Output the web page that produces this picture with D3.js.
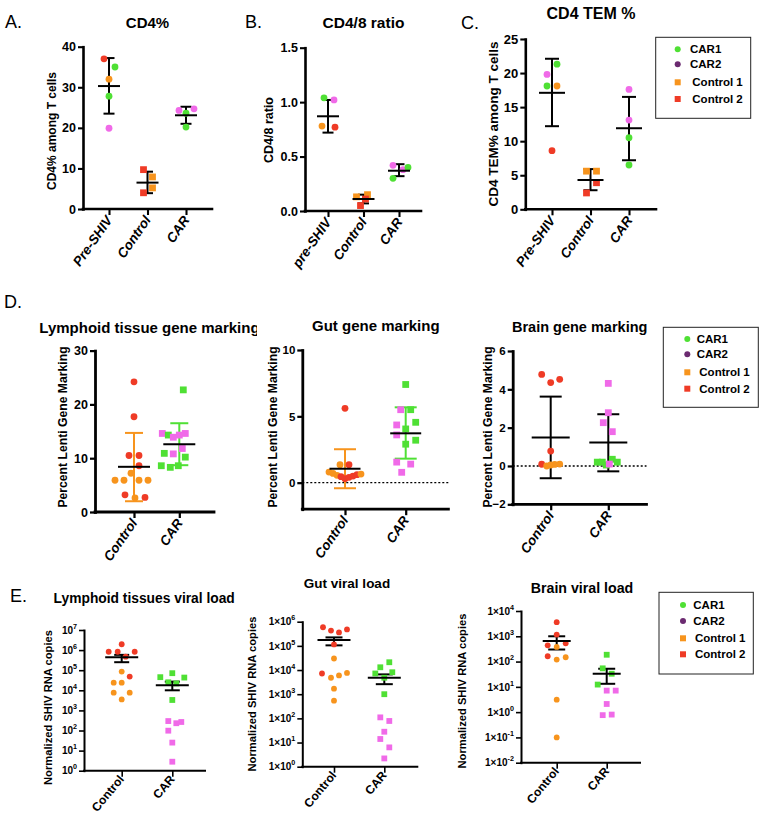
<!DOCTYPE html>
<html><head><meta charset="utf-8">
<script src="https://cdn.jsdelivr.net/npm/d3@7"></script>
<style>
body{margin:0;background:#fff}
svg{display:block}
text{font-family:"Liberation Sans",Arial,Helvetica,sans-serif;fill:#000}
</style>
</head><body>
<svg id="c" width="762" height="813"></svg>
<script>
// ---------------- DATA ----------------
const legendItems = ["CAR1", "CAR2", "Control 1", "Control 2"];

// A. CD4%
const catsA = ["Pre-SHIV", "Control", "CAR"];
const valsA = [[37.0, 35.0, 32.0, 27.8, 19.9], [9.7, 7.9, 5.2, 4.0], [24.3, 24.7, 23.6, 20.2]];
const grpA = [["Control 2", "CAR1", "Control 1", "CAR1", "CAR2"], ["Control 2", "Control 1", "Control 1", "Control 2"], ["CAR2", "CAR2", "CAR1", "CAR1"]];
const meanA = [30.3, 6.5, 23.1], lowA = [23.5, 3.9, 21.0], highA = [37.2, 9.2, 25.2];
const ticksA = [0, 10, 20, 30, 40];

// B. CD4/8 ratio
const catsB = ["pre-SHIV", "Control", "CAR"];
const valsB = [[1.04, 1.02, 0.78, 0.77], [0.13, 0.15, 0.11, 0.05], [0.42, 0.38, 0.40, 0.30]];
const grpB = [["CAR1", "CAR2", "Control 1", "Control 2"], ["Control 1", "Control 1", "Control 2", "Control 2"], ["CAR2", "CAR2", "CAR1", "CAR1"]];
const meanB = [0.87, 0.11, 0.37], lowB = [0.72, 0.07, 0.32], highB = [1.02, 0.15, 0.43];
const ticksB = [0, 0.5, 1.0, 1.5];

// C. CD4 TEM %
const catsC = ["Pre-SHIV", "Control", "CAR"];
const valsC = [[19.8, 21.3, 18.1, 18.1, 8.6], [5.6, 5.6, 3.9, 2.4], [17.6, 13.1, 10.5, 6.5]];
const grpC = [["CAR2", "CAR1", "CAR1", "Control 1", "Control 2"], ["Control 1", "Control 1", "Control 2", "Control 2"], ["CAR2", "CAR2", "CAR1", "CAR1"]];
const meanC = [17.1, 4.3, 11.9], lowC = [12.2, 2.8, 7.2], highC = [22.1, 5.9, 16.5];
const ticksC = [0, 5, 10, 15, 20, 25];

// D1. Lymphoid tissue gene marking
const catsD = ["Control", "CAR"];
const valsD1 = [[24.2, 17.7, 10.5, 10.5, 8.6, 7.2, 5.9, 5.9, 5.9, 5.9, 3.2, 2.6, 2.7],
                [22.7, 14.6, 14.3, 13.9, 14.3, 14.6, 11.8, 10.9, 10.8, 10.2, 8.6, 8.3, 8.6]];
const grpD1 = [["Control 2", "Control 2", "Control 2", "Control 2", "Control 2", "Control 1", "Control 1", "Control 1", "Control 1", "Control 1", "Control 2", "Control 1", "Control 2"],
               ["CAR1", "CAR2", "CAR1", "CAR2", "CAR2", "CAR2", "CAR2", "CAR1", "CAR2", "CAR1", "CAR1", "CAR1", "CAR1"]];
const meanD1 = [8.4, 12.6], lowD1 = [2.0, 8.7], highD1 = [14.7, 16.5];
const ticksD1 = [0, 10, 20, 30];

// D2. Gut gene marking
const valsD2 = [[5.6, 1.35, 1.35, 0.8, 0.7, 0.55, 0.45, 0.3, 0.4, 0.5, 0.6, 0.65],
                [7.4, 5.5, 5.5, 4.55, 4.35, 4.05, 3.6, 3.2, 2.9, 1.55, 1.4, 0.78]];
const grpD2 = [["Control 2", "Control 1", "Control 2", "Control 1", "Control 1", "Control 1", "Control 2", "Control 2", "Control 2", "Control 2", "Control 2", "Control 1"],
               ["CAR1", "CAR2", "CAR1", "CAR1", "CAR2", "CAR1", "CAR2", "CAR1", "CAR1", "CAR2", "CAR2", "CAR2"]];
const meanD2 = [1.05, 3.72], lowD2 = [-0.42, 1.81], highD2 = [2.52, 5.68];
const ticksD2 = [0, 5, 10];

// D3. Brain gene marking
const valsD3 = [[4.78, 4.35, 4.52, 0.78, 0.09, 0.0, 0.05, 0.08, 0.1],
                [4.31, 2.78, 2.26, 1.79, 0.2, 0.2, 0.35, 0.2, 0.05, 0.1]];
const grpD3 = [["Control 2", "Control 2", "Control 2", "Control 2", "Control 2", "Control 1", "Control 1", "Control 1", "Control 1"],
               ["CAR2", "CAR2", "CAR2", "CAR2", "CAR1", "CAR1", "CAR1", "CAR1", "CAR1", "CAR2"]];
const meanD3 = [1.49, 1.22], lowD3 = [-0.64, -0.28], highD3 = [3.62, 2.7];
const ticksD3 = [-2, 0, 2, 4, 6];

// E1. Lymphoid tissues viral load
const valsE1 = [[1.95e6, 8.3e5, 8.3e5, 8.3e5, 4.7e5, 8.5e4, 4.8e4, 2.4e4, 2.4e4, 7.6e3, 7.6e3, 3.5e3],
                [7.1e4, 4.5e4, 4.3e4, 2.5e4, 2.2e4, 3.3e3, 295, 230, 265, 98, 25, 2.8]];
const grpE1 = [["Control 2", "Control 2", "Control 2", "Control 2", "Control 2", "Control 1", "Control 2", "Control 1", "Control 1", "Control 1", "Control 1", "Control 1"],
               ["CAR1", "CAR1", "CAR1", "CAR1", "CAR1", "CAR1", "CAR2", "CAR2", "CAR2", "CAR2", "CAR2", "CAR2"]];
const meanE1 = [4.4e5, 1.8e4], lowE1 = [2.5e5, 1.0e4], highE1 = [5.8e5, 2.7e4];
const ticksE1 = [1, 1e1, 1e2, 1e3, 1e4, 1e5, 1e6, 1e7];

// E2. Gut viral load
const valsE2 = [[5.9e5, 4.3e5, 3.6e5, 4.8e5, 1.15e5, 3.0e4, 7.2e3, 4.8e3, 6.0e3, 7.6e3, 1.7e3, 540],
                [2.1e4, 1.3e4, 8.1e3, 7.2e3, 4.8e3, 1.0e3, 110, 78, 28, 14, 6.3, 2.2]];
const grpE2 = [["Control 2", "Control 2", "Control 2", "Control 2", "Control 2", "Control 1", "Control 2", "Control 1", "Control 1", "Control 1", "Control 1", "Control 1"],
               ["CAR1", "CAR1", "CAR1", "CAR1", "CAR1", "CAR1", "CAR2", "CAR2", "CAR2", "CAR2", "CAR2", "CAR2"]];
const meanE2 = [1.74e5, 4.8e3], lowE2 = [1.05e5, 2.6e3], highE2 = [2.24e5, 6.6e3];
const ticksE2 = [1, 1e1, 1e2, 1e3, 1e4, 1e5, 1e6];

// E3. Brain viral load
const valsE3 = [[3.6e3, 1.17e3, 440, 525, 380, 162, 120, 148, 3.1, 0.1],
                [186, 54, 33, 12.3, 7.1, 7.1, 2.1, 0.76, 0.8]];
const grpE3 = [["Control 2", "Control 2", "Control 2", "Control 2", "Control 1", "Control 2", "Control 1", "Control 1", "Control 1", "Control 1"],
               ["CAR1", "CAR1", "CAR1", "CAR1", "CAR2", "CAR2", "CAR2", "CAR2", "CAR2"]];
const meanE3 = [650, 33], lowE3 = [300, 13.2], highE3 = [1000, 52];
const ticksE3 = [0.01, 0.1, 1, 1e1, 1e2, 1e3, 1e4];

// ---------------- LAYOUT (jitter offsets, px) ----------------
const jitA = [[-5, 6, 0, 0, 0], [-4, 5, 5, -4], [-7, 8, 0, 0]];
const jitB = [[-4, 6, -6, 7], [-7, 4, 2, -3], [-6, 4, 9, -6]];
const jitC = [[-5, 5, -5, 5, 0], [-4, 6, 6, -4], [0, 0, 0, 0]];
const jitD1 = [[0, 0, -5, 5, 5, -3, -19, -10, 5, 14, -9, 1, 11], [4, -17, -11, -6, 0, 6, 3, -15, -6, 6, -18, -9, -1]];
const jitD2 = [[0, -5, 4, -16, -12, -8, -4, 0, 4, 8, 12, 16], [0, -5, 5, 10, -9, 0, -9, 10, 0, -9, 5, -4]];
const jitD3 = [[-9, 0, 9, 0, -9, -4, 0, 4, 9], [0, 0, -5, 4, -11, -6, 4, 9, -2, 1]];
const jitE1 = [[0, -13, -4, 13, 4, 0, 8, -8, 0, -8, 8, 0], [0, -12, 12, -4, 4, 0, -4, 4, 9, -4, 0, 0]];
const jitE2 = [[-11, -3, 5, 13, 0, 0, -12, -3, 5, 13, 0, 0], [5, -4, 8, -9, 0, 0, -4, 5, 0, -4, 5, 0]];
const jitE3 = [[0, 0, -9, 9, 0, -9, 0, 9, 0, 0], [0, -4, 5, -9, 0, 9, 0, -4, 5]];

const COL = {"CAR1": "#4fe034", "CAR2": "#f06ae8", "Control 1": "#f7941d", "Control 2": "#ef3b26"};
const LEGCOL = {"CAR1": "#4fe034", "CAR2": "#6b2a70", "Control 1": "#f7941d", "Control 2": "#ef3b26"};

const svg = d3.select("#c");

function drawPanel(p) {
  const g = svg.append("g");
  const y = (p.log ? d3.scaleLog() : d3.scaleLinear()).domain(p.domain).range([p.yB, p.yT]);
  const x = d3.scalePoint().domain(p.cats).range(p.cr);

  const ax = d3.axisLeft(y).tickValues(p.ticks).tickSize(5).tickSizeOuter(0).tickPadding(2);
  if (p.fmt) ax.tickFormat(p.fmt);
  const ga = g.append("g").attr("transform", `translate(${p.x0},0)`).call(ax);
  ga.select(".domain").attr("stroke", "#000").attr("stroke-width", p.aw).attr("stroke-linecap", "square");
  ga.selectAll(".tick line").attr("stroke", "#000").attr("stroke-width", p.aw * 0.8);
  ga.selectAll(".tick text").attr("font-size", p.tf).attr("font-weight", "bold");
  if (p.sup !== undefined) {
    ga.selectAll(".tick text").each(function (d) {
      const t = d3.select(this);
      const e = Math.round(Math.log10(d));
      t.text("");
      t.append("tspan").text(p.sup);
      t.append("tspan").attr("dy", -5).attr("font-size", p.tf * 0.72).text(e);
    });
  }

  g.append("line").attr("x1", p.x0).attr("x2", p.x1).attr("y1", p.yB).attr("y2", p.yB)
    .attr("stroke", "#000").attr("stroke-width", p.aw).attr("stroke-linecap", "square");
  const gx = g.append("g").attr("transform", `translate(0,${p.yB})`)
    .call(d3.axisBottom(x).tickSize(6).tickSizeOuter(0).tickFormat(""));
  gx.select(".domain").remove();
  gx.selectAll(".tick line").attr("stroke", "#000").attr("stroke-width", p.aw * 0.8);

  g.selectAll("text.xl").data(p.cats).join("text").attr("class", "xl")
    .attr("transform", d => `translate(${x(d) + p.lx},${p.yB + p.ly}) rotate(${-p.ang})`)
    .attr("text-anchor", "end").attr("font-size", p.xf).attr("font-weight", "bold")
    .attr("font-style", p.italic ? "italic" : "normal").text(d => d);

  if (p.zero) {
    g.append("line").attr("x1", p.x0).attr("x2", p.x1).attr("y1", y(0)).attr("y2", y(0))
      .attr("stroke", "#000").attr("stroke-width", 1.3).attr("stroke-dasharray", "2,2");
  }

  p.cats.forEach((c, i) => {
    const cx = x(c), col = p.ec ? p.ec[i] : "#000";
    g.append("line").attr("x1", cx).attr("x2", cx).attr("y1", y(p.lo[i])).attr("y2", y(p.hi[i]))
      .attr("stroke", col).attr("stroke-width", p.bw);
    [p.lo[i], p.hi[i]].forEach(v => {
      g.append("line").attr("x1", cx - p.cw / 2).attr("x2", cx + p.cw / 2).attr("y1", y(v)).attr("y2", y(v))
        .attr("stroke", col).attr("stroke-width", p.bw);
    });
  });

  const pts = [];
  p.vals.forEach((arr, i) => arr.forEach((v, j) => pts.push({i, v, grp: p.grp[i][j], dx: p.jit[i][j]})));
  pts.forEach(d => {
    const cx = x(p.cats[d.i]) + d.dx, cy = y(d.v);
    if (p.shape[d.i] === "s") {
      g.append("rect").attr("x", cx - p.r).attr("y", cy - p.r).attr("width", 2 * p.r).attr("height", 2 * p.r)
        .attr("fill", COL[d.grp]);
    } else {
      g.append("circle").attr("cx", cx).attr("cy", cy).attr("r", p.r).attr("fill", COL[d.grp]);
    }
  });

  p.cats.forEach((c, i) => {
    const cx = x(c);
    g.append("line").attr("x1", cx - p.mw / 2).attr("x2", cx + p.mw / 2).attr("y1", y(p.mean[i])).attr("y2", y(p.mean[i]))
      .attr("stroke", "#000").attr("stroke-width", p.bw);
  });

  g.append("text").attr("transform", `translate(${p.ylx},${p.yly}) rotate(-90)`)
    .attr("text-anchor", "middle").attr("dominant-baseline", "central")
    .attr("font-size", p.ylf).attr("font-weight", "bold").text(p.ylabel);

  const tt = g.append("text").attr("x", p.tx).attr("y", p.ty).attr("dominant-baseline", "central")
    .attr("text-anchor", p.tanchor || "middle").attr("font-size", p.tf2).attr("font-weight", "bold").text(p.title);
  if (p.clip) {
    svg.append("clipPath").attr("id", p.clip.id).append("rect")
      .attr("x", 0).attr("y", p.ty - 15).attr("width", p.clip.x).attr("height", 30);
    tt.attr("clip-path", `url(#${p.clip.id})`);
  }
  if (p.letter) {
    g.append("text").attr("x", p.letter[1]).attr("y", p.letter[2]).attr("dominant-baseline", "central")
      .attr("font-size", 18).text(p.letter[0]);
  }
}

function legend(bx, by, bw, bh, mx, tx1, tx2, ys) {
  const g = svg.append("g");
  g.append("rect").attr("x", bx).attr("y", by).attr("width", bw).attr("height", bh)
    .attr("fill", "#fff").attr("stroke", "#222").attr("stroke-width", 1);
  legendItems.forEach((k, i) => {
    if (i < 2) g.append("circle").attr("cx", mx).attr("cy", ys[i]).attr("r", 3).attr("fill", LEGCOL[k]);
    else g.append("rect").attr("x", mx - 3).attr("y", ys[i] - 3).attr("width", 6).attr("height", 6).attr("fill", LEGCOL[k]);
    g.append("text").attr("x", i < 2 ? tx1 : tx2).attr("y", ys[i]).attr("dominant-baseline", "central")
      .attr("font-size", 11.5).attr("font-weight", "bold").text(k);
  });
}

const topRow = {aw: 2.6, bw: 2, r: 3.4, ang: 55, italic: true, xf: 13.5, lx: 4, ly: 11};
drawPanel(Object.assign({}, topRow, {
  cats: catsA, vals: valsA, grp: grpA, jit: jitA, mean: meanA, lo: lowA, hi: highA, ticks: ticksA,
  shape: ["c", "s", "c"], domain: [0, 40], x0: 83, x1: 212, yT: 46.7, yB: 209, cr: [109, 186],
  tf: 12.5, cw: 11, mw: 22, ylabel: "CD4% among T cells", ylx: 52, yly: 131, ylf: 12,
  title: "CD4%", tx: 147.5, ty: 22, tf2: 15, letter: ["A.", 5, 22]
}));
drawPanel(Object.assign({}, topRow, {
  cats: catsB, vals: valsB, grp: grpB, jit: jitB, mean: meanB, lo: lowB, hi: highB, ticks: ticksB,
  fmt: d3.format(".1f"), shape: ["c", "s", "c"], domain: [0, 1.5], x0: 305, x1: 421, yT: 47.7, yB: 211, cr: [328, 399],
  tf: 12.5, cw: 11, mw: 22, ylabel: "CD4/8 ratio", ylx: 269, yly: 130, ylf: 12.5,
  title: "CD4/8 ratio", tx: 363.5, ty: 22, tf2: 15.5, letter: ["B.", 245, 22]
}));
drawPanel(Object.assign({}, topRow, {
  cats: catsC, vals: valsC, grp: grpC, jit: jitC, mean: meanC, lo: lowC, hi: highC, ticks: ticksC,
  shape: ["c", "s", "c"], domain: [0, 25], x0: 525.3, x1: 656, yT: 39, yB: 209.3, cr: [552, 629],
  tf: 13, cw: 14, mw: 26, ylabel: "CD4 TEM% among T cells", ylx: 493.3, yly: 124, ylf: 13.5,
  title: "CD4 TEM %", tx: 591, ty: 13, tf2: 16, letter: ["C.", 461, 23]
}));

const midRow = {aw: 2.8, bw: 2, r: 3.4, ang: 55, italic: true, xf: 13.5, lx: 4, ly: 11, ylabel: "Percent Lenti Gene Marking", ylf: 12.2, yly: 427};
drawPanel(Object.assign({}, midRow, {
  cats: catsD, vals: valsD1, grp: grpD1, jit: jitD1, mean: meanD1, lo: lowD1, hi: highD1, ticks: ticksD1,
  shape: ["c", "s"], domain: [0, 30], x0: 95, x1: 214, yT: 350.6, yB: 512, cr: [134, 179.3],
  tf: 12.5, cw: 18, mw: 32, ec: ["#f7941d", "#4fe034"], ylx: 63,
  title: "Lymphoid tissue gene marking", tx: 39.3, tanchor: "start", ty: 327, tf2: 15, clip: {id: "clipD1", x: 257},
  letter: ["D.", 4, 302]
}));
drawPanel(Object.assign({}, midRow, {
  cats: catsD, vals: valsD2, grp: grpD2, jit: jitD2, mean: meanD2, lo: lowD2, hi: highD2, ticks: ticksD2,
  shape: ["c", "s"], domain: [-2, 10], x0: 302.3, x1: 448.4, yT: 350, yB: 509.2, cr: [345, 405.7], zero: true,
  tf: 11.5, cw: 22, mw: 31, ec: ["#f7941d", "#4fe034"], ylx: 273.3,
  title: "Gut gene marking", tx: 375.8, ty: 325, tf2: 15
}));
drawPanel(Object.assign({}, midRow, {
  cats: catsD, vals: valsD3, grp: grpD3, jit: jitD3, mean: meanD3, lo: lowD3, hi: highD3, ticks: ticksD3,
  shape: ["c", "s"], domain: [-2, 6], x0: 512.7, x1: 646.5, yT: 351, yB: 504.3, cr: [550.7, 608.3], zero: true,
  tf: 11.5, cw: 22, mw: 38, ylx: 488.3,
  title: "Brain gene marking", tx: 579.7, ty: 327.3, tf2: 14.5
}));

const botRow = {aw: 2, bw: 2, r: 2.9, ang: 50, italic: false, xf: 12, lx: 3, ly: 9, ylabel: "Normalized SHIV RNA copies", ylf: 11.2, log: true, tf: 10};
drawPanel(Object.assign({}, botRow, {
  cats: catsD, vals: valsE1, grp: grpE1, jit: jitE1, mean: meanE1, lo: lowE1, hi: highE1, ticks: ticksE1, sup: "10",
  shape: ["c", "s"], domain: [1, 1e7], x0: 84, x1: 205, yT: 630, yB: 770.7, cr: [121.7, 172.3],
  cw: 15, mw: 33, ylx: 48, yly: 707.5,
  title: "Lymphoid tissues viral load", tx: 144.2, ty: 598, tf2: 13.8, letter: ["E.", 10, 596]
}));
drawPanel(Object.assign({}, botRow, {
  cats: catsD, vals: valsE2, grp: grpE2, jit: jitE2, mean: meanE2, lo: lowE2, hi: highE2, ticks: ticksE2, sup: "1×10",
  shape: ["c", "s"], domain: [1, 1e6], x0: 302.3, x1: 417.3, yT: 621.7, yB: 766.7, cr: [334, 384.3],
  cw: 17, mw: 33, ylx: 251.7, yly: 694,
  title: "Gut viral load", tx: 347, ty: 583.3, tf2: 13.5
}));
drawPanel(Object.assign({}, botRow, {
  cats: catsD, vals: valsE3, grp: grpE3, jit: jitE3, mean: meanE3, lo: lowE3, hi: highE3, ticks: ticksE3, sup: "1×10",
  shape: ["c", "s"], domain: [0.01, 1e4], x0: 521, x1: 640, yT: 611, yB: 762.7, cr: [556.7, 606.7],
  cw: 17, mw: 28, ylx: 461.7, yly: 691,
  title: "Brain viral load", tx: 582, ty: 588.3, tf2: 14.2
}));

legend(655.7, 37.3, 95, 81, 677.7, 690, 692.3, [49.3, 64.3, 82.3, 99]);
legend(663.3, 327.3, 95, 80, 687.3, 696.7, 699.3, [339, 354.3, 372.3, 388.7]);
legend(659, 592.3, 94.3, 81.7, 683, 693.3, 695, [605, 621, 638.3, 654.3]);
</script>
</body></html>
